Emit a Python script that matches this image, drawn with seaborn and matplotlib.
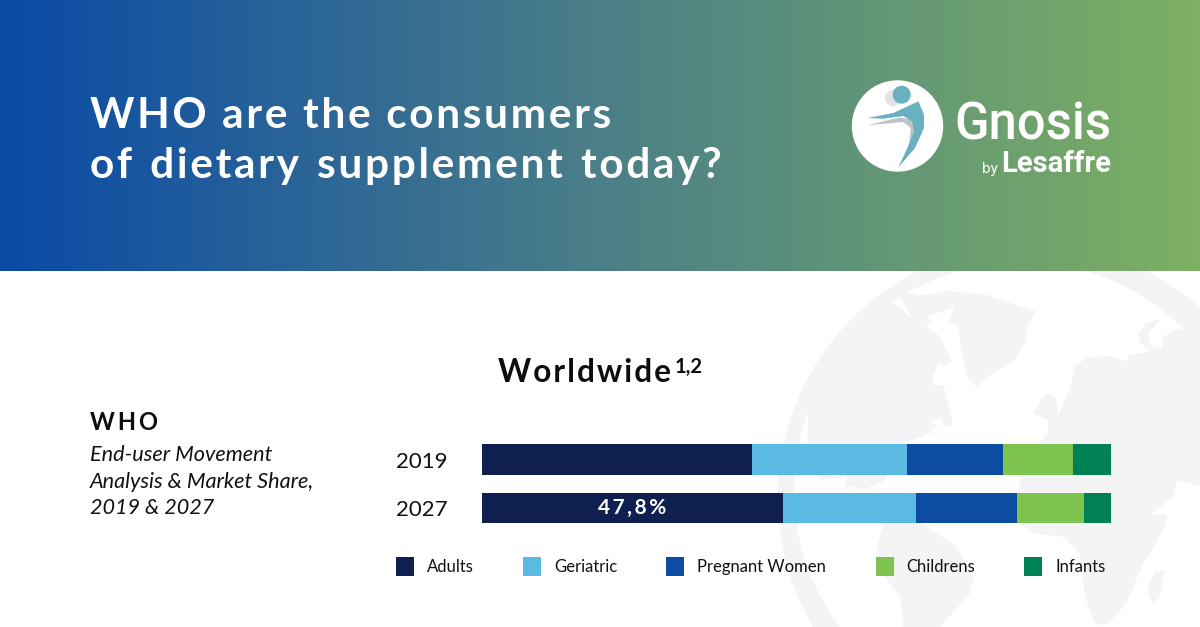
import matplotlib
matplotlib.use("Agg")
import matplotlib.pyplot as plt
import seaborn as sns
import numpy as np
from matplotlib.colors import LinearSegmentedColormap
from matplotlib.patches import Circle, Polygon

years = ["2019", "2027"]
segments = ["Adults", "Geriatric", "Pregnant Women", "Childrens", "Infants"]
adults = [42.9, 47.8]
geriatric = [24.6, 21.2]
pregnant = [15.3, 16.1]
childrens = [11.2, 10.6]
infants = [6.0, 4.3]
colors = ["#0f2050", "#5bbae2", "#0c4da2", "#7fc34f", "#008055"]

title_lines = ["WHO are the consumers", "of dietary supplement today?"]
who_lines = ["End-user Movement", "Analysis & Market Share,", "2019 & 2027"]

HAIR = "\u200a"


def spaced(s, n=1, word=0):
    # matplotlib has no letter spacing, so put hair spaces between the letters
    return (HAIR * n).join(s).replace(" ", " " + HAIR * word)


sns.set_style("white")
plt.rcParams['font.family'] = ['Lato', 'DejaVu Sans']

fig = plt.figure(figsize=(12, 6.27), dpi=100)

# background layer in pixel coordinates
bg = fig.add_axes([0, 0, 1, 1])
gradient = LinearSegmentedColormap.from_list("head", ["#0a4aa6", "#4b7f88", "#7db062"])
bg.imshow(np.linspace(0, 1, 600).reshape(1, -1), cmap=gradient, aspect="auto",
          extent=[0, 1200, 271, 0], zorder=3)
bg.set_xlim(0, 1200)
bg.set_ylim(627, 0)
bg.axis("off")


def z3(points):
    return [(770 + x / 3, 270 + y / 3) for x, y in points]


globe_color = "#f4f4f6"
clip = Circle((1032, 498), 254, transform=bg.transData)
bg.add_patch(Circle((1032, 498), 254, fc=globe_color, ec="none", zorder=0.5))
bg.add_patch(Circle((1022, 490), 228, fc="white", ec="none", zorder=0.6))
land = [
    [(250, 85), (335, 85), (380, 105), (420, 140), (465, 165), (510, 200), (545, 275), (520, 290),
     (510, 275), (490, 315), (485, 345), (520, 345), (535, 400), (550, 465), (520, 470), (515, 445),
     (480, 450), (500, 470), (470, 495), (400, 520), (360, 600), (345, 630), (290, 655), (225, 650),
     (230, 620), (150, 630), (112, 520), (115, 400), (60, 300), (150, 150)],
    [(390, 70), (470, 75), (530, 62), (650, 75), (800, 125), (775, 160), (765, 220), (730, 275),
     (660, 315), (620, 352), (590, 320), (575, 240), (565, 165), (535, 160), (555, 110), (470, 140),
     (488, 160), (465, 165), (425, 140), (400, 100)],
    [(340, 770), (320, 830), (345, 920), (390, 980), (400, 1071), (510, 1071), (600, 970), (610, 920),
     (560, 830), (470, 770), (430, 745), (340, 745)],
    [(1070, 275), (1020, 258), (950, 262), (915, 290), (900, 360), (865, 435), (860, 390), (835, 368),
     (815, 385), (790, 430), (835, 450), (835, 490), (790, 540), (760, 600), (745, 660), (745, 760),
     (790, 790), (880, 800), (930, 850), (945, 980), (975, 1060), (1010, 1065), (1070, 1000),
     (1110, 900), (1190, 760), (1190, 735), (1140, 735), (1210, 680), (1220, 630), (1300, 650),
     (1400, 500), (1320, 200), (1225, 175), (1180, 200), (1175, 235), (1140, 245), (1075, 255)],
    [(1135, 950), (1155, 905), (1185, 900), (1170, 980), (1150, 1000), (1135, 975)],
    [(1105, 190), (1130, 155), (1170, 150), (1135, 190), (1145, 230), (1175, 235), (1140, 245), (1110, 215)],
]
for shape in land:
    p = Polygon(z3(shape), closed=True, fc=globe_color, ec="none", zorder=1)
    bg.add_patch(p)
    p.set_clip_path(clip)


def z_logo(points):
    return [(850 + x / 3, 78 + y / 3) for x, y in points]


bg.add_patch(Circle((897.5, 126), 45.7, fc="white", ec="none", zorder=4))
arm_shadow = [(50, 142), (150, 118), (185, 125), (195, 150), (182, 200), (150, 262), (178, 195), (182, 150), (160, 132)]
body = [(52, 120), (130, 105), (205, 70), (222, 110), (222, 150), (195, 210), (145, 268), (175, 205),
        (192, 160), (186, 130), (160, 114), (100, 122)]
bg.add_patch(Polygon(z_logo(arm_shadow), closed=True, fc="#bfc3c6", ec="none", zorder=5))
bg.add_patch(Circle((893, 98), 8, fc="#e2e3e5", ec="none", zorder=5))
bg.add_patch(Polygon(z_logo(body), closed=True, fc="#69b0c1", ec="none", zorder=6))
bg.add_patch(Circle((901.7, 94.7), 9, fc="#69b0c1", ec="none", zorder=7))
bg.text(954, 125, "Gnosis", color="white", fontsize=36.5, family="Roboto", weight="medium", va="center",
        ha="left", zorder=6)
bg.text(982, 169, "by", color="white", fontsize=11, family="Roboto", va="center", ha="left", zorder=6)
bg.text(1001, 164, "Lesaffre", color="white", fontsize=21, family="Roboto", weight="bold", va="center",
        ha="left", zorder=6)

# header and text
for line, y, extra in zip(title_lines, [116, 166], [0, 1]):
    bg.text(90, y, spaced(line, 1, extra), color="white", fontsize=30.5, weight="bold", va="center", ha="left", zorder=6)
bg.text(498, 373, spaced("Worldwide"), color="#0d0d0d", fontsize=22.8, weight="bold", va="center", ha="left", zorder=6)
bg.text(675, 367, "1,2", color="#0d0d0d", fontsize=14.5, weight="bold", va="center", ha="left", zorder=6)
bg.text(90, 422, spaced("WHO", 2), color="#0d0d0d", fontsize=17, weight="bold", va="center", ha="left", zorder=6)
for line, y in zip(who_lines, [455, 482, 508]):
    bg.text(90, y, line, color="#111111", fontsize=15.6, style="italic", va="center", ha="left", zorder=6)

# stacked bars: cumulative totals drawn longest first
ax = fig.add_axes([482 / 1200, 1 - 532.25 / 627, 629 / 1200, 97 / 627])
ax.patch.set_alpha(0)
series = [adults, geriatric, pregnant, childrens, infants]
totals = np.cumsum(np.array(series), axis=0)
for i in reversed(range(len(segments))):
    sns.barplot(x=totals[i], y=years, color=colors[i], width=0.63, orient="h", saturation=1,
                label=segments[i], linewidth=0, legend=False, ax=ax)
ax.set_xlim(0, 100)
ax.set_xlabel("")
ax.set_ylabel("")
ax.set_xticks([])
ax.tick_params(axis="y", length=0, pad=25, labelsize=16, labelcolor="#111111")
sns.despine(ax=ax, left=True, bottom=True)
ax.text(adults[1] / 2, 1, spaced("47,8%", 2), color="white", fontsize=15, weight="bold", ha="center", va="center")

handles, labels = ax.get_legend_handles_labels()
order = [labels.index(s) for s in segments]
fig.legend([handles[k] for k in order], [labels[k] for k in order], ncol=5, frameon=False,
           loc="center left", bbox_to_anchor=(396 / 1200, 1 - 566.5 / 627), borderaxespad=0, borderpad=0,
           fontsize=12, handlelength=1.08, handleheight=1.3, handletextpad=0.78, columnspacing=2.95,
           labelcolor="#111111")

fig.savefig("out.png", dpi=100)
